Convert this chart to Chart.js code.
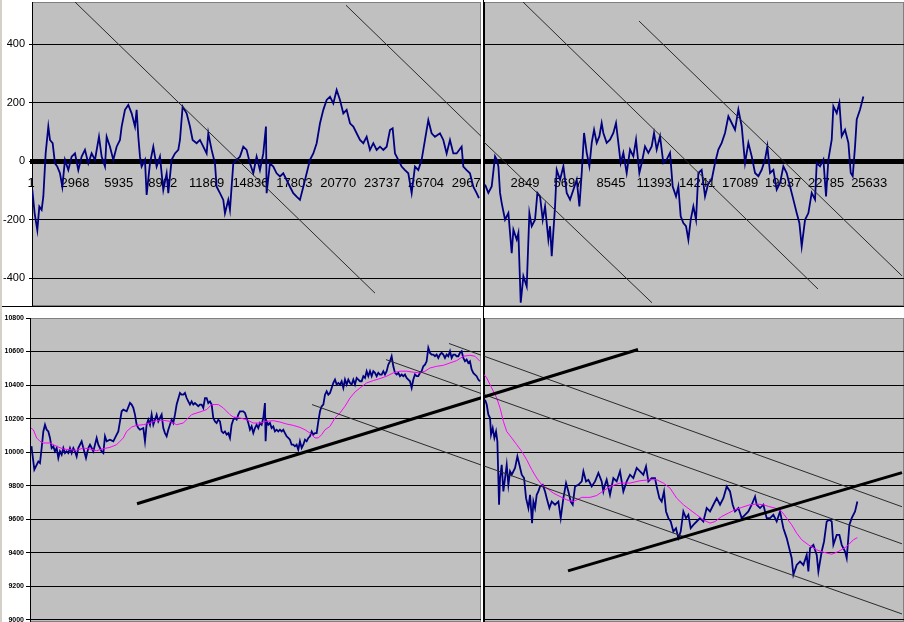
<!DOCTYPE html>
<html>
<head>
<meta charset="utf-8">
<script src="https://cdn.jsdelivr.net/npm/chart.js@4.4.1/dist/chart.umd.min.js"></script>
<style>
  body { margin: 0; background: #fff; }
  #wrap { position: relative; width: 904px; height: 622px; overflow: hidden; }
  canvas { position: absolute; }
  .rule { position: absolute; }
</style>
</head>
<body>
<div id="wrap">
  <canvas id="topLeft" width="481" height="306" style="left:0;top:0"></canvas>
  <canvas id="topRight" width="421" height="306" style="left:483px;top:0"></canvas>
  <canvas id="botLeft" width="481" height="314" style="left:0;top:308px"></canvas>
  <canvas id="botRight" width="421" height="314" style="left:483px;top:308px"></canvas>
  <div class="rule" style="left:0;top:306px;width:904px;height:1px;background:#000"></div>
  <div class="rule" style="left:483px;top:0;width:1px;height:622px;background:#000"></div>
  <div class="rule" style="left:0;top:0;width:2px;height:622px;background:#d4d0c8"></div>
</div>
<script>
// tick labels
const tlTicks = [1, 2968, 5935, 8902, 11869, 14836, 17803, 20770, 23737, 26704, 29671];
const trTicks = [1, 2849, 5697, 8545, 11393, 14241, 17089, 19937, 22785, 25633];
const topYTicks = [-400, -200, 0, 200, 400];
const botYTicks = [9000, 9200, 9400, 9600, 9800, 10000, 10200, 10400, 10600, 10800];

// top left oscillator
const tlX = [89,247,427,563,720,833,991,1171,1284,1464,1621,1779,1959,2117,2297,2523,2748,2973,3198,3424,
  3649,3874,4100,4325,4595,4776,5001,5114,5339,5564,5790,6015,6128,6353,6578,6803,7029,7141,7254,7367,
  7479,7704,7817,8042,8268,8493,8718,8944,9169,9282,9507,9732,9958,10070,10250,10521,10746,10926,11197,11422,
  11647,11873,11985,12211,12436,12549,12774,12999,13112,13337,13450,13675,13900,14126,14351,14576,14802,15027,15252,15477,
  15703,15883,15928,16153,16379,16604,16829,17054,17280,17505,17730,17956,18181,
  18409,18635,18860,19085,19311,19536,19761,19986,20212,20437,20662,20888,21113,21338,21564,21789,22014,22239,22465,22690,
  22915,23141,23366,23591,23817,24042,24267,24447,24605,24830,25056,25281,25506,25732,25957,26182,26407,26633,26858,27083,
  27309,27647,27872,28097,28323,28548,28773,29111,29224,29449,29674,29900,30125,30282];
const tlY = [-98,-178,-235,-155,-166,-121,27,119,73,62,-7,-18,-41,-87,5,-30,16,27,-30,16,
  39,-7,27,5,84,16,-18,84,50,5,50,73,119,176,193,164,119,176,84,16,
  -18,5,-115,-7,50,-18,16,-98,-41,-109,5,27,39,73,187,164,119,73,62,73,
  50,27,96,39,-7,-87,-109,-132,-178,-132,-166,-7,5,16,50,39,-7,-41,16,-30,
  27,119,-109,-7,-18,-41,-52,-41,-64,-87,-109,-121,-132,
  -87,-41,5,27,62,130,176,210,221,198,244,210,164,176,130,119,96,73,62,84,
  39,62,39,50,39,50,107,113,27,5,-18,-30,-41,-109,-18,-30,5,73,141,96,
  84,96,73,27,73,27,27,50,-18,-30,-41,-87,-109,-126];

// top right oscillator
const trX = [201,421,642,863,973,1084,1194,1304,1525,1746,1967,2077,2298,2408,2563,2739,2960,3136,3291,3511,
  3666,3842,4019,4174,4394,4505,4615,4836,4946,5167,5387,5608,5829,6049,6270,6447,6601,6756,6932,7109,
  7263,7418,7594,7771,
  7922,8033,8253,8474,8695,8871,9026,9180,9357,9578,9798,10019,10196,10416,10571,10791,11012,11233,11387,11564,
  11785,12005,12226,12447,12623,12844,12998,13153,13330,13506,13661,13815,13992,14168,14323,14543,14764,14985,15205,15426,
  15647,15868,16088,16309,16530,16750,16971,17192,17412,17633,17854,18075,18295,18516,18737,18891,19068,19288,19509,19730,
  19951,20171,20392,20613,20833,21010,21164,21385,21606,21826,22047,22158,22378,22599,22775,22930,23151,23261,23482,23658,
  23813,24033,24254,24411,24541,24695,24806,25027,25247];
const trY = [-80,-108,-86,17,6,-17,-108,-143,-200,-177,-314,-234,-268,-245,-484,-393,-428,-177,-222,-200,
  -108,-120,-200,-154,-268,-222,-325,-154,-29,-63,-17,-108,-131,-97,-63,-154,-40,97,29,-17,
  63,108,63,86,
  131,97,63,74,97,131,63,-6,29,-40,40,17,74,-40,-6,51,29,51,97,40,
  86,-6,6,29,-86,-120,-86,-188,-211,-222,-268,-200,-154,-200,-40,-29,-120,-74,-63,-6,
  40,63,97,154,131,108,177,120,-6,63,17,-40,-51,-29,6,51,-40,-29,-97,-74,
  -17,-40,-86,-131,-177,-211,-291,-200,-177,-108,-131,-6,-17,6,-120,6,74,188,165,200,
  86,108,63,-40,-51,51,143,177,222];

// bottom left price
const blX = [0,44,157,225,382,495,607,720,833,946,1058,1171,1284,1396,1509,1621,1734,1847,1959,2072,
  2185,2297,2410,2523,2635,2748,2861,2973,3086,3198,3311,3424,3537,3717,3874,3987,4100,4212,4438,4550,
  4663,4776,4889,5001,5114,5339,5564,5790,5902,6015,6128,6240,6466,6691,6804,6916,7029,7141,7254,7367,
  7592,7705,7817,7930,8043,8155,8268,8381,8493,8606,8718,8831,8944,9056,9169,9282,9394,9507,9619,9732,
  9845,10070,10183,10296,10408,10521,10633,10746,10859,10971,11084,11197,11309,11422,11535,11647,11760,11873,11985,12098,
  12211,12323,12436,12549,12661,12774,12887,12999,13112,13225,13337,13450,13563,13675,13788,13900,14013,14126,14351,14464,
  14576,14689,14802,14914,15027,15140,15252,15365,15477,15590,15703,15815,15860,15928,16041,16153,16266,16379,16491,16604,
  16717,16829,16942,17054,17167,17280,17392,17505,17618,17730,17843,17956,18068,18181,
  18297,18409,18522,18635,18747,18860,18973,19085,19198,19311,19423,19536,19649,19761,19874,19987,20099,20212,20325,20437,
  20550,20663,20775,20888,21000,21113,21226,21338,21451,21564,21677,21789,21902,22014,22127,22240,22352,22465,22578,22690,
  22803,22916,23028,23141,23254,23366,23479,23591,23704,23817,23929,24042,24155,24267,24380,24492,24605,24718,24830,24943,
  25056,25168,25281,25394,25506,25619,25732,25844,25957,26070,26182,26295,26407,26520,26633,26745,26858,26971,27083,27196,
  27309,27421,27534,27647,27759,27872,27985,28097,28210,28323,28435,28548,28661,28773,28886,28999,29111,29224,29337,29449,
  29562,29675,29787,29900,30012,30125,30238,30350];
const blY = [10035,10025,9945,9896,9925,9945,9935,10025,10124,10164,10134,10124,10085,10025,10035,10005,10025,9965,10005,9985,
  10025,9995,10005,9995,10025,9995,10025,10005,9975,10025,10045,10065,10025,9965,10025,10045,10025,10005,10085,10045,
  10025,10005,9995,10095,10065,10075,10065,10105,10124,10184,10244,10254,10244,10294,10284,10264,10224,10164,10144,10134,
  10144,10065,10164,10194,10164,10224,10164,10194,10224,10184,10204,10224,10144,10114,10095,10134,10164,10194,10174,10224,
  10284,10353,10343,10343,10353,10323,10303,10284,10303,10284,10293,10284,10274,10284,10284,10264,10323,10323,10293,10303,
  10284,10204,10184,10174,10194,10184,10124,10114,10124,10105,10114,10085,10164,10194,10204,10194,10224,10244,10244,10234,
  10204,10174,10134,10154,10114,10144,10164,10144,10174,10164,10204,10293,10065,10184,10164,10174,10144,10154,10124,10134,
  10124,10134,10124,10134,10114,10095,10085,10075,10045,10045,10035,10045,10015,10065,
  10025,10045,10075,10065,10085,10095,10124,10105,10114,10114,10184,10244,10274,10284,10343,10363,10343,10353,10383,10413,
  10433,10403,10413,10403,10423,10383,10433,10403,10433,10413,10403,10433,10403,10443,10433,10423,10423,10453,10443,10483,
  10453,10483,10453,10483,10473,10453,10473,10463,10463,10483,10463,10483,10522,10542,10572,10512,10473,10463,10473,10453,
  10463,10453,10463,10443,10433,10423,10383,10433,10463,10453,10453,10473,10483,10512,10522,10542,10622,10592,10582,10582,
  10572,10582,10562,10582,10592,10582,10562,10582,10572,10602,10562,10582,10582,10572,10572,10592,10602,10562,10542,10552,
  10532,10542,10493,10473,10463,10453,10433,10423];

// bottom left moving average
const blMaX = [0,157,382,607,833,1284,1734,2185,2635,3086,3537,3987,4438,4889,5339,5790,6015,6240,6466,6804,
  7141,7592,8043,8493,8944,9394,9845,10296,10521,10859,11422,11873,12211,12661,12999,13450,13675,14126,14576,15027,
  15477,15928,16379,16829,17280,17730,18181,
  18522,18860,19198,19423,19649,19874,20212,20550,20888,21226,21564,21902,22240,22690,23141,23591,24042,24492,24943,25394,
  25844,26295,26633,26971,27421,27872,28323,28773,29224,29675,30012,30350];
const blMaY = [10144,10134,10085,10065,10055,10055,10035,10019,10015,10011,10025,10019,10009,10021,10029,10045,10065,10085,10124,10150,
  10160,10164,10174,10190,10190,10184,10164,10174,10194,10224,10240,10254,10284,10284,10264,10224,10210,10204,10194,10174,
  10174,10184,10188,10180,10168,10160,10148,
  10134,10114,10085,10085,10105,10134,10154,10204,10234,10274,10323,10359,10383,10413,10427,10439,10453,10473,10483,10483,
  10477,10473,10483,10502,10512,10518,10532,10546,10572,10578,10572,10542];

// bottom right price
const brX = [201,311,421,532,598,708,819,929,1017,1128,1194,1304,1414,1525,1635,1746,1856,1967,2188,2342,
  2475,2629,2784,2916,3071,3181,3314,3401,3511,3622,3732,3842,4019,4174,4284,4461,4615,4836,5056,5211,
  5387,5564,5719,5873,6006,6160,6381,6602,6712,6889,7043,7264,7484,7705,
  7922,8033,8143,8253,8474,8695,8916,9136,9357,9578,9798,10019,10240,10460,10681,10858,11012,11233,11453,11564,
  11741,11895,12049,12182,12337,12491,12667,12844,12998,13153,13330,13506,13661,13815,13992,14212,14433,14654,14874,15095,
  15316,15537,15757,15978,16199,16419,16596,16750,16971,17192,17412,17633,17854,18075,18185,18406,18627,18847,19068,19288,
  19509,19730,19951,20171,20392,20502,20613,20833,21054,21274,21495,21606,21716,21937,22158,22268,22488,22643,22819,22996,
  23151,23261,23482,23658,23813,24033,24144,24320,24475,24695,24850];
const brY = [10313,10284,10224,10204,10105,10144,10085,10124,10065,9687,9846,9925,9766,9846,9925,9806,9886,9866,9906,9975,
  9925,9866,9846,9726,9667,9746,9577,9706,9667,9746,9766,9796,9806,9766,9726,9667,9706,9687,9706,9607,
  9726,9816,9766,9706,9687,9796,9806,9826,9886,9826,9836,9796,9826,9876,
  9826,9766,9806,9836,9746,9846,9826,9886,9766,9826,9866,9846,9906,9886,9866,9915,9826,9846,9846,9796,
  9726,9706,9766,9647,9607,9587,9527,9547,9488,9527,9647,9607,9627,9547,9567,9587,9607,9587,9667,9647,
  9687,9726,9687,9726,9796,9766,9687,9647,9667,9607,9627,9647,9687,9736,9687,9667,9687,9607,9607,9627,
  9587,9647,9547,9488,9408,9368,9269,9328,9348,9328,9388,9289,9428,9448,9388,9289,9408,9468,9587,9597,
  9587,9448,9507,9507,9448,9408,9368,9567,9607,9647,9706];

// bottom right moving average
const brMaX = [135,311,532,973,1194,1414,1635,1967,2298,2629,2960,3291,3622,3953,4284,4725,5167,5608,6049,6601,
  7153,7594,7815,8474,9136,9798,10460,11123,11564,12005,12447,12888,13330,13771,14212,14654,15095,15426,15868,16309,
  16750,17192,17743,18185,18627,18957,19398,19840,20171,20502,20833,21164,21606,22158,22599,23151,23592,24144,24585,24850];
const brMaY = [10463,10443,10403,10323,10264,10184,10124,10085,10045,10005,9955,9896,9846,9806,9786,9756,9736,9716,9706,9731,
  9731,9742,9756,9796,9816,9816,9830,9836,9836,9816,9786,9726,9687,9657,9627,9597,9577,9587,9617,9637,
  9657,9671,9687,9691,9687,9677,9667,9647,9607,9567,9517,9478,9448,9418,9404,9392,9408,9438,9478,9491];

// drawn trend lines, end points in data units
const tlLineB = [[21294, 534], [31028, 56]];
const tlLineC = [[2974, 545], [23254, -451]];
const trLineA = [[2714, 545], [22243, -437]];
const trLineB = [[-463, 95], [11254, -484]];
const trLineD = [[10393, 480], [27804, -392]];
const blThick = [[7166, 9693], [31028, 10340]];
const blLineE = [[18996, 10284], [31028, 9905]];
const blLineG = [[23998, 10552], [31028, 10331]];
const blLineF = [[28257, 10648], [31028, 10559]];
const brThick = [[-463, 10313], [10327, 10612]];
const brThick2 = [[5693, 9293], [27804, 9878]];
const brLineE = [[-463, 9937], [27804, 9036]];
const brLineG = [[-463, 10363], [27804, 9454]];
const brLineF = [[-463, 10592], [27804, 9675]];

const FONT = '"Liberation Sans", Arial, sans-serif';
const NAVY = '#000080';
const PINK = '#ff00ff';

const plotBox = {
  id: 'plotBox',
  beforeDraw(chart) {
    const {ctx, chartArea: a} = chart;
    ctx.save();
    ctx.fillStyle = '#c0c0c0';
    ctx.fillRect(a.left, a.top, a.right - a.left, a.bottom - a.top);
    ctx.strokeStyle = '#808080';
    ctx.lineWidth = 1;
    ctx.strokeRect(a.left + 0.5, a.top + 0.5, a.right - a.left - 1, a.bottom - a.top - 1);
    ctx.restore();
  }
};

function noPad(s) {
  s.paddingLeft = 0; s.paddingRight = 0; s.paddingTop = 0; s.paddingBottom = 0;
}

function series(xs, ys, color, width) {
  return {data: xs.map((x, i) => ({x: x, y: ys[i]})), borderColor: color, borderWidth: width,
    pointRadius: 0, tension: 0, fill: false};
}

function trend(p, width, color) {
  return {data: p.map(([x, y]) => ({x: x, y: y})), borderColor: color || '#2a2a2a', borderWidth: width || 1,
    pointRadius: 0, tension: 0, fill: false};
}

function makeChart(id, datasets, x, y, padTop) {
  return new Chart(document.getElementById(id), {
    type: 'line',
    data: {datasets: datasets},
    options: {
      responsive: false,
      animation: false,
      events: [],
      layout: {padding: {top: padTop, left: 0, right: 0, bottom: 0}},
      plugins: {legend: {display: false}, tooltip: {enabled: false}},
      scales: {x: x, y: y}
    },
    plugins: [plotBox]
  });
}

function topX(min, max, list) {
  return {
    type: 'linear', min: min, max: max,
    position: {y: 0},
    grid: {display: false},
    border: {display: true, color: '#000', width: 5},
    afterBuildTicks: s => { s.ticks = list.filter(v => v >= s.min && v <= s.max || v === 1 && s.min < 100).map(v => ({value: v})); },
    afterFit: noPad,
    ticks: {autoSkip: false, maxRotation: 0, minRotation: 0, padding: 6, color: '#000',
      font: {family: FONT, size: 13}, callback: v => String(v)}
  };
}

function topY(labels) {
  return {
    type: 'linear', min: -495, max: 545,
    afterBuildTicks: s => { s.ticks = topYTicks.map(v => ({value: v})); },
    afterFit: s => { s.width = labels ? 32 : 1; noPad(s); },
    grid: {color: c => (c.tick && c.tick.value === 0) ? 'rgba(0,0,0,0)' : '#000', tickColor: '#000',
      drawTicks: labels, tickLength: 3},
    border: {display: true, color: '#000', width: 1},
    ticks: {display: labels, padding: 4, color: '#000', font: {family: FONT, size: 11}, callback: v => String(v)}
  };
}

function botY(labels) {
  return {
    type: 'linear', min: 8988, max: 10800,
    afterBuildTicks: s => { s.ticks = botYTicks.map(v => ({value: v})); },
    afterFit: s => { s.width = labels ? 30 : 1; noPad(s); },
    grid: {color: c => (c.tick && c.tick.value === 10800) ? '#808080' : '#000', tickColor: '#000',
      drawTicks: labels, tickLength: 4},
    border: {display: true, color: '#000', width: 1},
    ticks: {display: labels, padding: 2, color: '#000', font: {family: FONT, size: 7, weight: 'bold'}, callback: v => String(v)}
  };
}

function botX(min, max) {
  return {type: 'linear', min: min, max: max, display: false, afterFit: noPad};
}

makeChart('topLeft',
  [trend(tlLineB), trend(tlLineC), series(tlX, tlY, NAVY, 1.8)],
  topX(68, 30420, tlTicks), topY(true), 2);

makeChart('topRight',
  [trend(trLineA), trend(trLineB), trend(trLineD), series(trX, trY, NAVY, 1.8)],
  topX(132, 27936, trTicks), topY(false), 2);

makeChart('botLeft',
  [trend(blThick, 3, '#000'), trend(blLineE), trend(blLineG), trend(blLineF),
   series(blMaX, blMaY, PINK, 1), series(blX, blY, NAVY, 1.8)],
  botX(-68, 30420), botY(true), 10);

makeChart('botRight',
  [trend(brThick, 3, '#000'), trend(brThick2, 3, '#000'), trend(brLineE), trend(brLineG), trend(brLineF),
   series(brMaX, brMaY, PINK, 1), series(brX, brY, NAVY, 1.8)],
  botX(132, 27936), botY(false), 10);
</script>
</body>
</html>
